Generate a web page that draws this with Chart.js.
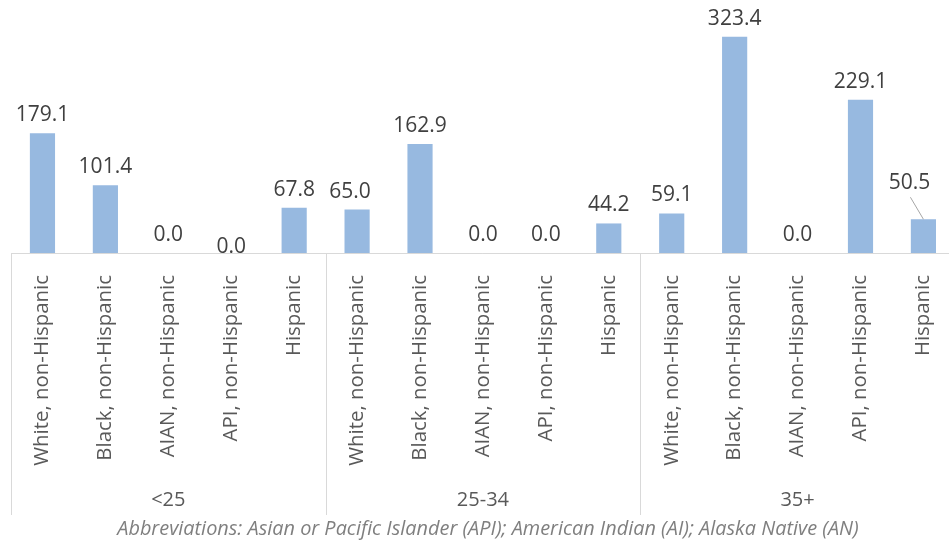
<!DOCTYPE html>
<html>
<head>
<meta charset="utf-8">
<script src="https://cdn.jsdelivr.net/npm/chart.js@4.4.1/dist/chart.umd.min.js"></script>
<style>
  html, body { margin: 0; padding: 0; background: #fff; overflow: hidden; }
  #wrap { width: 962px; height: 543px; }
</style>
</head>
<body>
<div id="wrap"><canvas id="chart"></canvas></div>
<script>
/* ================= DATA ================= */
const groups = ["<25", "25-34", "35+"];
const races = [
  "White, non-Hispanic",
  "Black, non-Hispanic",
  "AIAN, non-Hispanic",
  "API, non-Hispanic",
  "Hispanic"
];
const ratesUnder25 = [179.1, 101.4, 0.0, 0.0, 67.8];
const rates25to34 = [65.0, 162.9, 0.0, 0.0, 44.2];
const rates35plus = [59.1, 323.4, 0.0, 229.1, 50.5];
const footnote = "Abbreviations: Asian or Pacific Islander (API); American Indian (AI); Alaska Native (AN)";

const labels = [];
groups.forEach(() => races.forEach(r => labels.push(r)));
const values = [...ratesUnder25, ...rates25to34, ...rates35plus];

/* ================= DRAWING ================= */
const FONT = "'Open Sans'";
const LINE = "#d9d9d9";

const overlay = {
  id: "overlay",
  afterDatasetsDraw(chart) {
    const ctx = chart.ctx;
    const area = chart.chartArea;
    const meta = chart.getDatasetMeta(0);
    const n = races.length;

    ctx.save();
    // axis line
    ctx.strokeStyle = LINE;
    ctx.lineWidth = 1;
    ctx.beginPath();
    ctx.moveTo(area.left, area.bottom + 0.5);
    ctx.lineTo(area.right, area.bottom + 0.5);
    ctx.stroke();

    // group dividers + group labels
    const step = (area.right - area.left) / values.length;
    for (let g = 0; g <= groups.length; g++) {
      const x = Math.round(area.left + g * n * step) + 0.5;
      ctx.beginPath();
      ctx.moveTo(x, area.bottom);
      ctx.lineTo(x, 515);
      ctx.stroke();
    }
    ctx.fillStyle = "#595959";
    ctx.font = "20px " + FONT;
    ctx.textAlign = "center";
    ctx.textBaseline = "middle";
    groups.forEach((g, i) => {
      const x = area.left + (i * n + n / 2) * step;
      ctx.fillText(g, x, 500);
    });

    // value labels
    ctx.fillStyle = "#404040";
    ctx.font = "21px " + FONT;
    ctx.textBaseline = "alphabetic";
    meta.data.forEach((bar, i) => {
      let x = bar.x, y = bar.y - 12;
      if (i === 3) y = bar.y;          // second zero label sits lower
      if (i === 5) x -= 7;
      if (i === 14) {                  // leader line label
        x -= 14; y = bar.y - 30;
        ctx.strokeStyle = "#a6a6a6";
        ctx.beginPath();
        ctx.moveTo(bar.x - 13, bar.y - 22);
        ctx.lineTo(bar.x, bar.y);
        ctx.stroke();
      }
      ctx.fillText(values[i].toFixed(1), x, y);
    });

    // footnote
    ctx.fillStyle = "#7f7f7f";
    ctx.font = "italic 19.9px " + FONT;
    ctx.fillText(footnote, 488, 535);
    ctx.restore();
  }
};

new Chart(document.getElementById("chart"), {
  type: "bar",
  data: {
    labels: labels,
    datasets: [{
      data: values,
      backgroundColor: "#97b9e0",
      barPercentage: 0.4,
      categoryPercentage: 1
    }]
  },
  options: {
    responsive: true,
    maintainAspectRatio: false,
    animation: false,
    layout: { padding: { top: 19, left: 11, right: 3, bottom: 0 } },
    plugins: { legend: { display: false }, tooltip: { enabled: false } },
    scales: {
      x: {
        grid: { display: false },
        border: { display: false },
        ticks: {
          autoSkip: false,
          minRotation: 90,
          maxRotation: 90,
          padding: 14,
          color: "#595959",
          font: { family: FONT, size: 20.4 }
        },
        afterFit(scale) { scale.height = 290; }
      },
      y: {
        display: false,
        min: 0,
        max: 350
      }
    }
  },
  plugins: [overlay]
});
</script>
</body>
</html>
